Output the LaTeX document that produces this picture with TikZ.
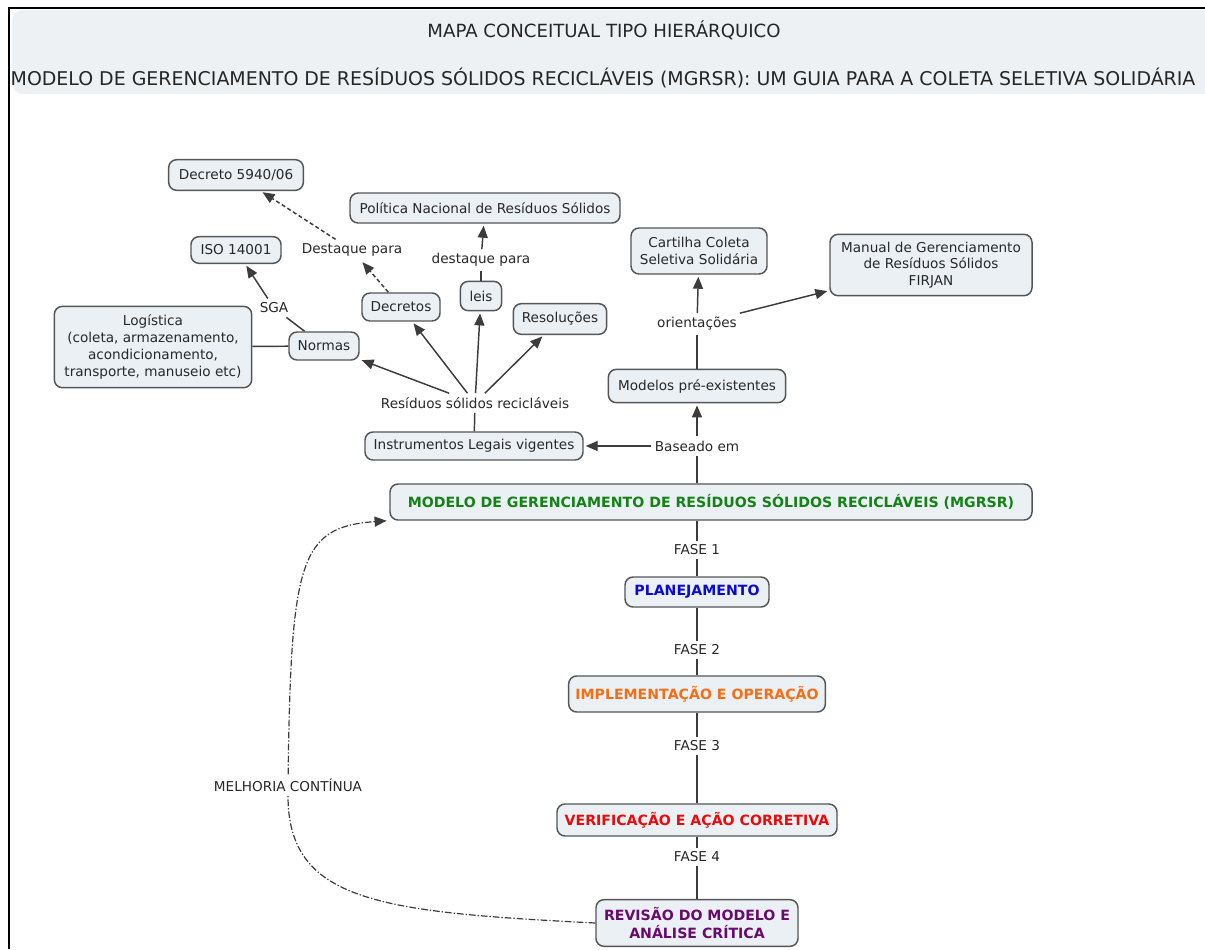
\documentclass[tikz,border=0pt]{standalone}
\usepackage{fontspec}
\setmainfont{DejaVu Sans}
\usetikzlibrary{arrows.meta}

\definecolor{boxfill}{RGB}{234,240,244}
\definecolor{boxline}{RGB}{85,85,85}
\definecolor{edgecol}{RGB}{60,60,60}
\definecolor{txt}{RGB}{40,40,40}
\definecolor{band}{RGB}{237,241,244}
\definecolor{cgreen}{RGB}{20,130,20}
\definecolor{cblue}{RGB}{10,10,210}
\definecolor{corange}{RGB}{245,110,20}
\definecolor{cred}{RGB}{235,10,10}
\definecolor{cpurple}{RGB}{105,10,110}

\begin{document}
\begin{tikzpicture}[x=0.75pt,y=-0.75pt,
  concept/.style={draw=boxline, fill=boxfill, rounded corners=6pt, line width=1.1pt,
    align=center, text=txt, font=\fontsize{10.2}{12.6}\selectfont,
    inner xsep=5pt, inner ysep=3pt},
  phase/.style={concept, font=\fontsize{10.6}{12.8}\selectfont\bfseries},
  phrase/.style={text=txt, font=\fontsize{10.2}{12.6}\selectfont, inner xsep=3pt, inner ysep=3pt},
  link/.style={draw=edgecol, line width=1.1pt},
  arr/.style={link, -{Triangle[length=9pt,width=7.5pt]}, shorten >=1.5pt},
  dasharr/.style={arr, dash pattern=on 3pt off 2pt},
  loopline/.style={draw=edgecol, line width=0.9pt, dash pattern=on 5pt off 1.5pt on 1pt off 1.5pt}
]
\useasboundingbox (0,0) rectangle (1205,949);
\fill[white] (0,0) rectangle (1205,949);

% header band and frame
\begin{scope}
  \clip (0,0) rectangle (1205,949);
  \fill[band, rounded corners=8pt] (12,10) rectangle (1230,94);
\end{scope}
\draw[black, line width=1.9pt] (9,949) -- (9,8) -- (1205,8);
\node[text=black!85, font=\fontsize{13.6}{16}\selectfont] (title) at (604,30) {MAPA CONCEITUAL TIPO HIERÁRQUICO};
\node[text=black!85, font=\fontsize{14.2}{17}\selectfont] (subtitle) at (603,78) {MODELO DE GERENCIAMENTO DE RESÍDUOS SÓLIDOS RECICLÁVEIS (MGRSR): UM GUIA PARA A COLETA SELETIVA SOLIDÁRIA};

% legal instruments branch
\node[concept, minimum width=101pt, minimum height=23pt] (dec5940) at (236,175) {Decreto 5940/06};
\node[concept, minimum width=67.5pt, minimum height=20pt] (iso) at (236,250) {ISO 14001};
\node[concept, minimum width=148pt, minimum height=61pt] (logist) at (153,347) {Logística\\(coleta, armazenamento,\\acondicionamento,\\transporte, manuseio etc)};
\node[concept, minimum width=52.5pt, minimum height=21pt] (normas) at (324,346) {Normas};
\node[concept, minimum width=58.5pt, minimum height=21pt] (decretos) at (401,307) {Decretos};
\node[concept, minimum width=202.5pt, minimum height=22.5pt] (pnrs) at (485,208) {Política Nacional de Resíduos Sólidos};
\node[concept, minimum width=31pt, minimum height=22pt] (leis) at (481,296) {leis};
\node[concept, minimum width=70pt, minimum height=23pt] (resol) at (560,319) {Resoluções};
\node[concept, minimum width=163.5pt, minimum height=21pt] (instr) at (474,446) {Instrumentos Legais vigentes};

\node[phrase] (destA) at (352,250) {Destaque para};
\node[phrase] (destB) at (481,260) {destaque para};
\node[phrase] (sga) at (274,308) {SGA};
\node[phrase] (residuos) at (475,403) {Resíduos sólidos recicláveis};

% reference models branch
\node[concept, minimum width=102pt, minimum height=34.5pt] (cartilha) at (699,251) {Cartilha Coleta\\Seletiva Solidária};
\node[concept, minimum width=151.5pt, minimum height=46pt] (manual) at (931,265) {Manual de Gerenciamento\\de Resíduos Sólidos\\FIRJAN};
\node[concept, minimum width=133pt, minimum height=25pt] (modelos) at (697,386) {Modelos pré-existentes};
\node[phrase] (orient) at (697,324) {orientações};
\node[phrase] (baseado) at (697,446) {Baseado em};

% model and its phases
\node[phase, text=cgreen, minimum width=481.5pt, minimum height=27pt] (mgrsr) at (711,502) {MODELO DE GERENCIAMENTO DE RESÍDUOS SÓLIDOS RECICLÁVEIS (MGRSR)};
\node[phase, text=cblue, minimum width=108pt, minimum height=22.5pt] (planej) at (697,592) {PLANEJAMENTO};
\node[phase, text=corange, minimum width=191pt, minimum height=27pt] (impl) at (697,694) {IMPLEMENTAÇÃO E OPERAÇÃO};
\node[phase, text=cred, minimum width=210pt, minimum height=24pt] (verif) at (697,820) {VERIFICAÇÃO E AÇÃO CORRETIVA};
\node[phase, text=cpurple, minimum width=151.5pt, minimum height=35pt] (rev) at (697,923) {REVISÃO DO MODELO E\\ANÁLISE CRÍTICA};

\node[phrase] (fase1) at (697,550) {FASE 1};
\node[phrase] (fase2) at (697,650) {FASE 2};
\node[phrase] (fase3) at (697,746) {FASE 3};
\node[phrase] (fase4) at (697,857) {FASE 4};
\node[phrase] (melhoria) at (288,785) {MELHORIA CONTÍNUA};

% connectors of the legal branch
\draw[link] (instr) -- (residuos);
\draw[arr] (residuos) -- (normas);
\draw[arr] (residuos) -- (decretos);
\draw[arr] (residuos) -- (leis);
\draw[arr] (residuos) -- (resol);
\draw[link] (leis) -- (destB);
\draw[arr] (destB) -- (pnrs);
\draw[dasharr] (decretos) -- (destA);
\draw[dasharr] (destA) -- (dec5940);
\draw[link] (normas) -- (sga);
\draw[arr] (sga) -- (iso);
\draw[link] (normas) -- (logist);

% connectors of the models branch
\draw[link] (baseado |- mgrsr.north) -- (baseado);
\draw[arr] (baseado) -- (instr);
\draw[arr] (baseado) -- (modelos);
\draw[link] (modelos) -- (orient);
\draw[arr] (orient) -- (cartilha);
\draw[arr] (orient) -- (manual);

% phase chain
\draw[link] (fase1 |- mgrsr.south) -- (fase1);
\draw[link] (fase1) -- (planej);
\draw[link] (planej) -- (fase2);
\draw[link] (fase2) -- (impl);
\draw[link] (impl) -- (fase3);
\draw[link] (fase3) -- (verif);
\draw[link] (verif) -- (fase4);
\draw[link] (fase4) -- (rev);

% continuous improvement loop
\draw[loopline] (rev.west) .. controls (380,912) and (288,902) .. (melhoria);
\draw[loopline, -{Triangle[length=9pt,width=7.5pt]}] (melhoria) .. controls (291,560) and (300,527) .. ([xshift=-2pt]mgrsr.south west);
\end{tikzpicture}
\end{document}
